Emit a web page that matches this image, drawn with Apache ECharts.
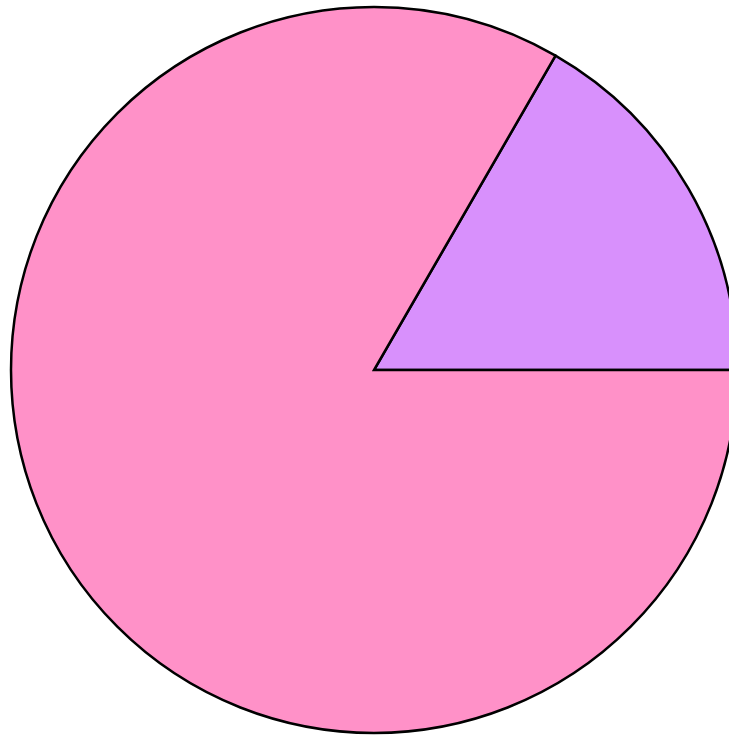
<!DOCTYPE html>
<html>
<head>
<meta charset="utf-8">
<script src="https://cdn.jsdelivr.net/npm/echarts@6/dist/echarts.min.js"></script>
<style>
  html, body { margin: 0; padding: 0; background: #fff; }
  #chart { width: 729px; height: 736px; }
</style>
</head>
<body>
<div id="chart"></div>
<script>
// Two-slice pie
const sliceNames = ['B', 'A'];
const sliceValues = [1, 5];
const sliceColors = ['#d890fc', '#ff91c8'];

const chart = echarts.init(document.getElementById('chart'), null, { renderer: 'canvas' });
chart.setOption({
  animation: false,
  series: [{
    type: 'pie',
    center: [374, 370],
    radius: 363,
    startAngle: 60,
    clockwise: true,
    label: { show: false },
    labelLine: { show: false },
    emphasis: { disabled: true },
    itemStyle: { borderColor: '#000', borderWidth: 2.5, borderJoin: 'miter' },
    data: sliceNames.map((n, i) => ({
      name: n,
      value: sliceValues[i],
      itemStyle: { color: sliceColors[i] }
    }))
  }]
});
</script>
</body>
</html>
